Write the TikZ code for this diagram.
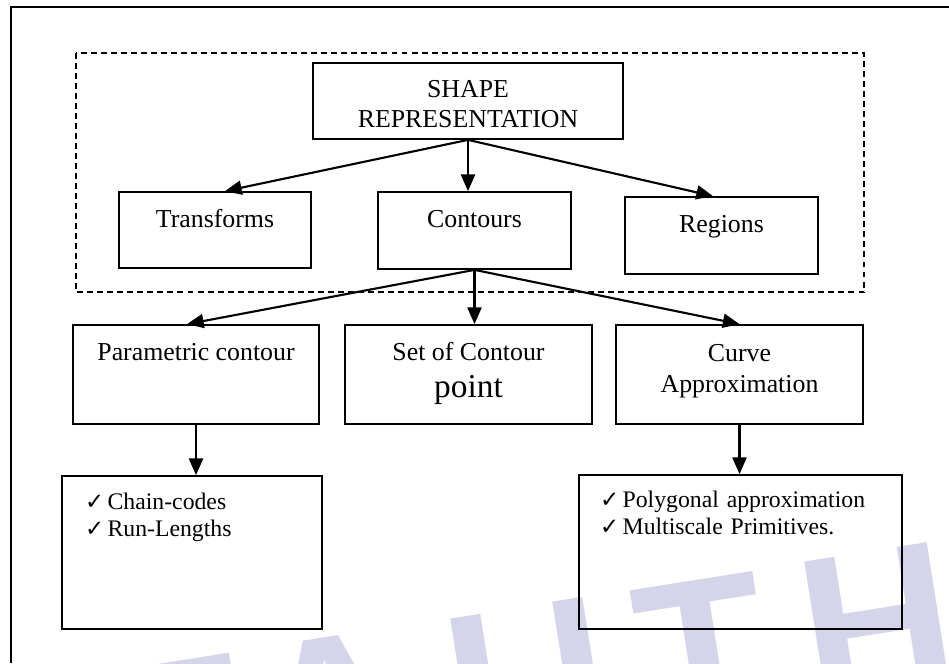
\documentclass[tikz,border=0pt]{standalone}
\usepackage{fontspec}
\setmainfont{Liberation Serif}
\newfontfamily\checkfont{DejaVu Sans}
\newfontfamily\wmfont{Liberation Sans}
\usetikzlibrary{arrows.meta}

\definecolor{wmcolor}{RGB}{212,212,234}
\newcommand{\chk}{{\checkfont\fontsize{13}{13}\selectfont ✓}\hspace{2pt}}

\begin{document}
\begin{tikzpicture}[x=0.02cm, y=-0.02cm,
    box/.style={draw, line width=1pt, inner sep=0pt, text height=0.7cm,
        align=center, font=\fontsize{14.7}{17.5}\selectfont},
    listbox/.style={draw, line width=1pt, inner ysep=0pt, align=left,
        font=\fontsize{13.5}{15.9}\selectfont},
    arrow/.style={-{Triangle[length=9.5pt, width=8pt]}, line width=1.2pt},
    dashbox/.style={line width=0.8pt, dash pattern=on 3.4pt off 2.3pt},
    wmletter/.style={text=wmcolor, inner sep=0pt, rotate=9, anchor=north,
        text height=3.03cm, font=\wmfont\bfseries\fontsize{120}{120}\selectfont}]

    \useasboundingbox (0, 0) rectangle (949, 663);

    % watermark
    \begin{scope}
        \clip (0, 0) rectangle (949, 663);
        \foreach \ch/\x/\y in {E/171/656, A/320/632, L/499/604, I/567/593, T/690/574, H/865/546}
            { \node [wmletter] (wm\ch) at (\x, \y) {\ch}; }
    \end{scope}

    % page frame
    \draw [line width=0.6pt] (11, 663) -- (11, 7) -- (949, 7);

    \draw [dashbox] (76, 53) rectangle (864, 292);

    % two-line boxes: baseline is the last line
    \node [box, minimum width=6.2cm, text height=1.3cm, text depth=0.22cm] (shape) at (468, 101) {SHAPE\\REPRESENTATION};

    \node [box, minimum width=3.84cm, text depth=0.82cm] (transforms) at (215, 230) {Transforms};
    \node [box, minimum width=3.86cm, text depth=0.84cm] (contours) at (474.5, 230.5) {Contours};
    \node [box, minimum width=3.86cm, text depth=0.84cm] (regions) at (721.5, 235.5) {Regions};

    \node [box, minimum width=4.92cm, text depth=1.28cm] (parametric) at (196, 374.5) {Parametric contour};
    \node [box, minimum width=4.94cm, text height=1.44cm, text depth=0.54cm] (setpoint) at (468.5, 374.5)
        {Set of Contour\\[3.4pt]{\fontsize{19}{21}\selectfont point}};
    \node [box, minimum width=4.94cm, text height=1.34cm, text depth=0.64cm] (curve) at (739.5, 374.5) {Curve\\Approximation};

    \node [listbox, inner xsep=0.46cm, text width=4.28cm, text height=0.66cm, text depth=2.4cm]
        (chains) at (192, 552.5) {\chk Chain-codes\\\chk Run-Lengths};
    \node [listbox, inner xsep=0.42cm, text width=5.62cm, text height=0.64cm, text depth=2.44cm]
        (polygonal) at (740.5, 552) {\chk Polygonal approximation\\\chk Multiscale Primitives.};

    \draw [arrow] (shape.south) -- ([xshift=0.2cm]transforms.north);
    \draw [arrow] (shape.south) -- (shape.south |- contours.north);
    \draw [arrow] (shape.south) -- ([xshift=-0.17cm]regions.north);

    \draw [arrow] (contours.south) -- ([xshift=-0.18cm]parametric.north);
    \draw [arrow] (contours.south) -- (contours.south |- setpoint.north);
    \draw [arrow] (contours.south) -- (curve.north);

    \draw [arrow] (parametric.south) -- (parametric.south |- chains.north);
    \draw [arrow] (curve.south) -- (curve.south |- polygonal.north);

\end{tikzpicture}
\end{document}
